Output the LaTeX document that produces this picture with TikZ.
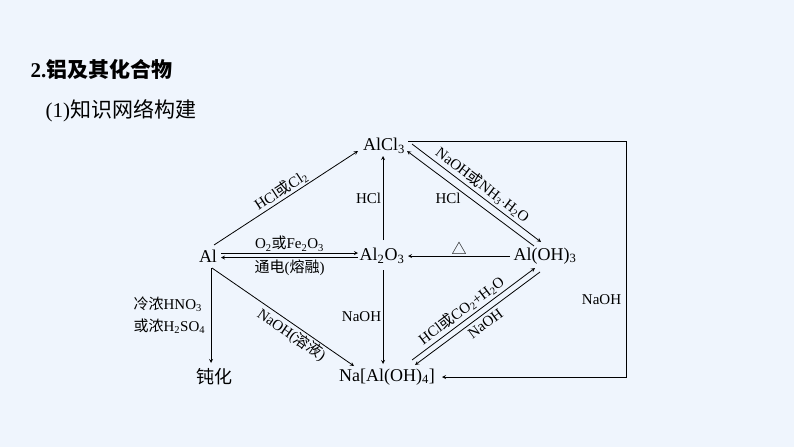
\documentclass[tikz,border=0pt]{standalone}
\usepackage{fontspec}
\setmainfont{Liberation Serif}
\newfontfamily\cjk{Noto Sans CJK SC}
\usetikzlibrary{arrows, calc, positioning}
\definecolor{bgblue}{RGB}{239,245,253}
\newcommand{\zh}[1]{{\cjk #1}}
\newcommand{\dn}[1]{\textsubscript{#1}}
\tikzstyle{chem} = [inner sep=1pt, font=\fontsize{18}{20}\selectfont]
\tikzstyle{lbl} = [inner sep=1.5pt, font=\fontsize{15}{17}\selectfont]
\tikzstyle{arrow} = [line width=0.8pt,->,>=stealth]

\begin{document}
\begin{tikzpicture}[x=1pt, y=-1pt]
\useasboundingbox[fill=bgblue] (0,0) rectangle (794,447);

% Titles
\node (title) [anchor=west, font=\fontsize{21}{24}\selectfont\bfseries] at (27,69) {2.\zh{铝及其化合物}};
\node (sub) [anchor=west, font=\fontsize{21}{24}\selectfont] at (42,111) {(1)\zh{知识网络构建}};

% Main compounds
\node (alcl) [chem] at (384,146) {AlCl\dn{3}};
\node (al) [chem] at (208,256) {Al};
\node (alo) [chem] at (382,256) {Al\dn{2}O\dn{3}};
\node (aloh) [chem] at (545,256) {Al(OH)\dn{3}};
\node (naal) [chem] at (387,377) {Na[Al(OH)\dn{4}]};
\node (dh) [chem] at (214,377) {\zh{钝化}};
\coordinate (rt) at (626,377);

% Arrows
\draw [arrow] ($(al)+(6,-11)$) -- node[lbl, sloped, above] {HCl\zh{或}Cl\dn{2}} ($(alcl)+(-26,5)$);
\draw [arrow] ($(al)+(13,-3)$) -- node[lbl, above] {O\dn{2}\zh{或}Fe\dn{2}O\dn{3}} ($(alo)+(-24,-3)$);
\draw [arrow] ($(alo)+(-24,1.5)$) -- node[lbl, below] {\zh{通电}(\zh{熔融})} ($(al)+(13,1.5)$);
\draw [arrow] ($(alo)+(1,-16)$) -- node[lbl, left] {HCl} ($(alcl)+(-1,10)$);
\draw [arrow] ($(alcl)+(28,-2)$) -- node[lbl, sloped, above=1pt] {NaOH\zh{或}NH\dn{3}$\cdot$H\dn{2}O} ($(aloh)+(-4,-14)$);
\draw [arrow] ($(aloh)+(-11,-10)$) -- node[lbl, left=8pt] {HCl} ($(alcl)+(23,5)$);
\draw [arrow] ($(aloh)+(-35,0)$) -- node[lbl, above] {\zh{△}} ($(alo)+(26,0)$);
\draw [arrow] ($(alo)+(1,14)$) -- node[lbl, left] {NaOH} ($(naal)+(-4,-13)$);
\draw [arrow] ($(al)+(4,12)$) -- node[lbl, sloped, below, pos=0.6] {NaOH(\zh{溶液})} ($(naal)+(-33,-11)$);
\draw [arrow] ($(al)+(3,12)$) -- node[lbl, left=4pt, align=left, font=\fontsize{15}{22}\selectfont] {\zh{冷浓}HNO\dn{3}\\\zh{或浓}H\dn{2}SO\dn{4}} ($(dh)+(-3,-14)$);
\draw [arrow] ($(naal)+(25,-17)$) -- node[lbl, sloped, above=1pt, pos=0.45] {HCl\zh{或}CO\dn{2}+H\dn{2}O} ($(aloh)+(-10,12)$);
\draw [arrow, <-] ($(naal)+(28,-12)$) -- node[lbl, sloped, below=2pt, pos=0.52] {NaOH} ($(aloh)+(-5,16)$);
\draw [arrow] ($(alcl)+(24,-5)$) -| node[lbl, left=3pt, pos=0.835] {NaOH} (rt) -- ($(naal)+(55,0)$);

\end{tikzpicture}
\end{document}
